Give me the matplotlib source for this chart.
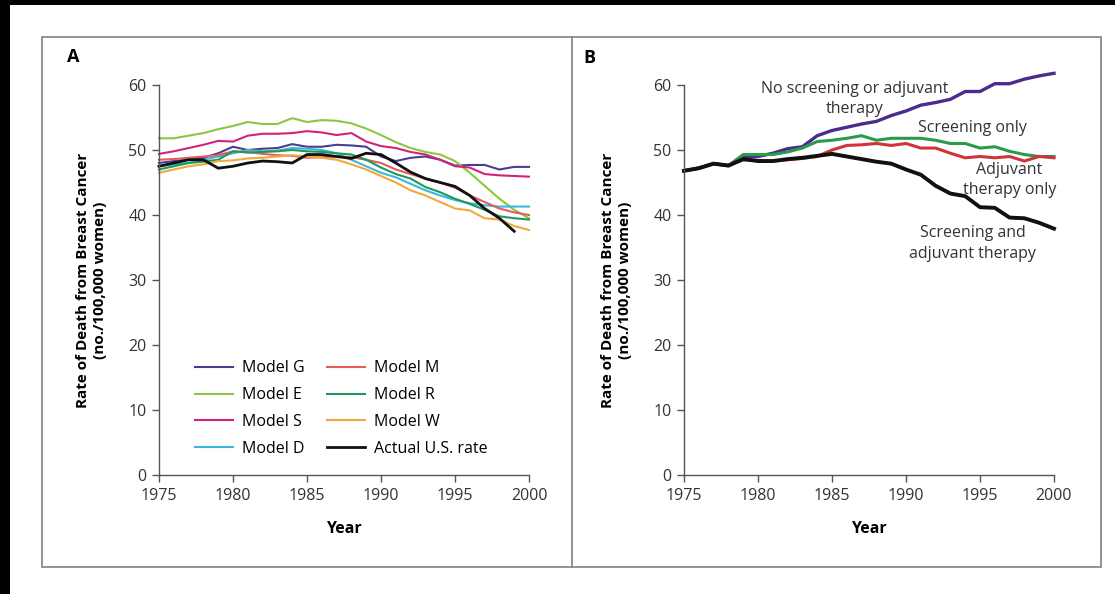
import numpy as np
import matplotlib
matplotlib.use("Agg")
import matplotlib.pyplot as plt
from matplotlib.patches import Rectangle

plt.rcParams['font.family'] = ['Open Sans', 'DejaVu Sans']

years = np.arange(1975, 2001)

# Panel A: model estimates and the observed rate (deaths per 100,000 women)
model_g = [48.0, 48.3, 48.5, 48.8, 49.5, 50.5, 50.0, 50.2, 50.3, 50.9, 50.5, 50.5, 50.8,
           50.7, 50.5, 49.0, 48.3, 48.8, 49.0, 48.5, 47.6, 47.7, 47.7, 47.0, 47.4, 47.4]
model_e = [51.8, 51.8, 52.2, 52.6, 53.2, 53.7, 54.3, 54.0, 54.0, 54.9, 54.3, 54.6, 54.5,
           54.1, 53.3, 52.3, 51.2, 50.3, 49.7, 49.3, 48.3, 46.5, 44.5, 42.5, 40.8, 39.5]
model_s = [49.4, 49.8, 50.3, 50.8, 51.4, 51.3, 52.2, 52.5, 52.5, 52.6, 52.9, 52.7, 52.3,
           52.6, 51.3, 50.6, 50.3, 49.7, 49.3, 48.5, 47.5, 47.3, 46.3, 46.1, 46.0, 45.9]
model_d = [47.5, 47.8, 48.0, 48.5, 49.0, 49.5, 50.0, 49.8, 49.9, 50.3, 50.2, 50.0, 49.5,
           48.5, 47.5, 46.5, 45.8, 44.8, 43.8, 43.0, 42.3, 41.8, 41.5, 41.3, 41.3, 41.3]
model_m = [48.5, 48.6, 48.8, 49.0, 49.2, 49.8, 49.7, 49.4, 49.2, 49.1, 48.8, 48.9, 49.0,
           48.9, 48.5, 48.0, 47.0, 46.3, 45.6, 45.0, 44.2, 43.0, 42.0, 41.0, 40.4, 40.0]
model_r = [47.0, 47.5, 48.0, 48.2, 48.5, 49.8, 49.6, 49.7, 49.8, 50.0, 49.8, 49.7, 49.5,
           49.3, 48.5, 47.3, 46.3, 45.6, 44.3, 43.5, 42.5, 41.7, 40.8, 39.8, 39.5, 39.3]
model_w = [46.5, 47.0, 47.5, 47.8, 48.3, 48.4, 48.7, 48.8, 49.0, 49.2, 49.0, 48.8, 48.5,
           47.8, 47.0, 46.0, 45.0, 43.8, 43.0, 42.0, 41.0, 40.7, 39.5, 39.3, 38.3, 37.7]
actual_us = [47.5, 48.0, 48.5, 48.5, 47.2, 47.5, 48.0, 48.3, 48.2, 48.0, 49.3, 49.3, 49.0,
             48.7, 49.5, 49.3, 48.0, 46.6, 45.6, 45.0, 44.4, 43.0, 41.0, 39.5, 37.5]

# Panel B: scenarios (median across models)
no_screen_no_adj = [46.8, 47.2, 47.9, 47.6, 48.9, 49.0, 49.5, 50.2, 50.5, 52.2, 53.0, 53.5, 54.0,
                    54.4, 55.3, 56.0, 56.9, 57.3, 57.8, 59.0, 59.0, 60.2, 60.2, 60.9, 61.4, 61.8]
screening_only = [46.8, 47.2, 47.9, 47.6, 49.3, 49.3, 49.3, 49.7, 50.3, 51.3, 51.5, 51.8, 52.2,
                  51.5, 51.8, 51.8, 51.8, 51.5, 51.0, 51.0, 50.3, 50.5, 49.8, 49.3, 49.0, 49.0]
adjuvant_only = [46.8, 47.2, 47.9, 47.6, 48.5, 48.4, 48.3, 48.5, 48.7, 49.0, 50.0, 50.7, 50.8,
                 51.0, 50.7, 51.0, 50.3, 50.3, 49.5, 48.8, 49.0, 48.8, 49.0, 48.3, 49.0, 48.8]
screen_and_adj = [46.8, 47.2, 47.9, 47.6, 48.6, 48.3, 48.3, 48.6, 48.8, 49.1, 49.4, 49.0, 48.6,
                  48.2, 47.9, 47.0, 46.2, 44.5, 43.3, 42.9, 41.2, 41.1, 39.6, 39.5, 38.8, 37.9]

models_left = [("Model G", model_g, "#4a3d8f"), ("Model E", model_e, "#8dc63f"),
               ("Model S", model_s, "#d0237a"), ("Model D", model_d, "#3cb7dc")]
models_right = [("Model M", model_m, "#e85b5b"), ("Model R", model_r, "#1b9a5e"),
                ("Model W", model_w, "#f2a93b")]

W, H = 1115, 594
fig = plt.figure(figsize=(W / 100, H / 100), dpi=100)


def px_rect(x0, y0, x1, y1):
    # pixel box (top-left origin) -> figure fraction rect
    return [x0 / W, 1 - y1 / H, (x1 - x0) / W, (y1 - y0) / H]


ax_a = fig.add_axes(px_rect(159, 85, 529, 475))
ax_b = fig.add_axes(px_rect(684, 85, 1054, 475))

# outer frame, divider and dark edges
frame_col = "#8a8a8a"
fig.patches.append(Rectangle((42 / W, 1 - 567 / H), (1101 - 42) / W, (567 - 37) / H,
                             transform=fig.transFigure, fill=False, ec=frame_col, lw=1.3))
fig.add_artist(plt.Line2D([572 / W, 572 / W], [1 - 567 / H, 1 - 37 / H],
                          transform=fig.transFigure, color=frame_col, lw=1.3))
fig.patches.append(Rectangle((0, 1 - 5 / H), 1, 5 / H, transform=fig.transFigure,
                             color="black", lw=0))
fig.patches.append(Rectangle((0, 0), 10 / W, 1, transform=fig.transFigure,
                             color="black", lw=0))

fig.text(73 / W, 1 - 57 / H, "A", fontsize=13, fontweight="bold", ha="center", va="center")
fig.text(589 / W, 1 - 58 / H, "B", fontsize=13, fontweight="bold", ha="center", va="center")

for name, vals, col in models_left + models_right:
    ax_a.plot(years, vals, color=col, lw=1.5, label=name, clip_on=False)
ax_a.plot(years[:len(actual_us)], actual_us, color="#111111", lw=2.0,
          label="Actual U.S. rate", clip_on=False)

ax_a.legend(ncol=2, loc="upper left", bbox_to_anchor=(0.097, 0.294), frameon=False,
            fontsize=11.5, handlelength=2.4, handletextpad=0.56, columnspacing=1.4,
            labelspacing=0.68, borderaxespad=0, borderpad=0)

ax_b.plot(years, no_screen_no_adj, color="#4b2c8e", lw=2.4, clip_on=False)
ax_b.plot(years, screening_only, color="#2a9b4a", lw=2.2, clip_on=False)
ax_b.plot(years, adjuvant_only, color="#d0343a", lw=2.2, clip_on=False)
ax_b.plot(years, screen_and_adj, color="#111111", lw=2.8, clip_on=False)

txt = dict(fontsize=11.5, color="#333333", ha="center", va="center", linespacing=1.35)
ax_b.text(1986.5, 57.9, "No screening or adjuvant\ntherapy", **txt)
ax_b.text(1994.5, 53.4, "Screening only", **txt)
ax_b.text(1997.0, 45.4, "Adjuvant\ntherapy only", **txt)
ax_b.text(1994.5, 35.6, "Screening and\nadjuvant therapy", **txt)

for ax in (ax_a, ax_b):
    ax.set_xlim(1975, 2000)
    ax.set_ylim(0, 60)
    ax.set_xticks(range(1975, 2001, 5))
    ax.set_yticks(range(0, 61, 10))
    for side in ("top", "right"):
        ax.spines[side].set_visible(False)
    for side in ("left", "bottom"):
        ax.spines[side].set_color("#555555")
        ax.spines[side].set_linewidth(1.0)
    ax.tick_params(direction="out", length=5, width=1.0, color="#555555",
                   labelsize=11.5, labelcolor="#333333", pad=4)
    ax.set_xlabel("Year", fontsize=11.5, fontweight="bold")
    ax.xaxis.set_label_coords(0.5, -0.118)
    ax.set_ylabel("Rate of Death from Breast Cancer\n(no./100,000 women)", fontsize=11,
                  fontweight="bold", linespacing=1.3)
    ax.yaxis.set_label_coords(-0.14, 0.5)
    ax.patch.set_alpha(0)

fig.savefig("out.png", dpi=100)
